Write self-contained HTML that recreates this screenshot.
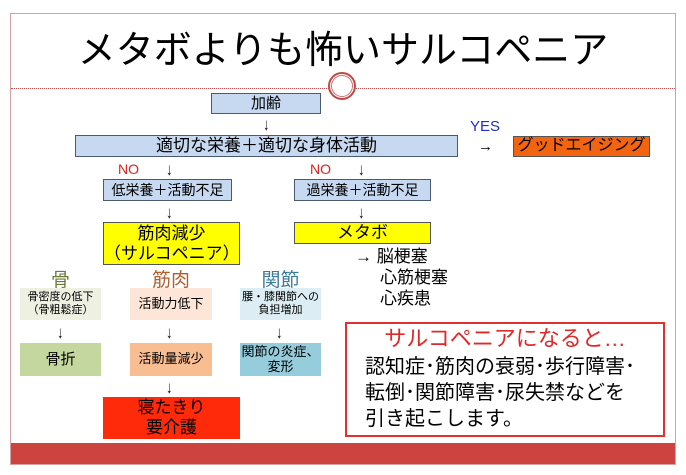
<!DOCTYPE html>
<html><head><meta charset="utf-8"><style>
body{margin:0;width:686px;height:475px;background:#fff;position:relative;overflow:hidden;font-family:"Liberation Sans","Noto Sans CJK JP",sans-serif;}
.a{position:absolute;}
.b{position:absolute;box-sizing:border-box;display:flex;align-items:center;justify-content:center;text-align:center;line-height:1.15;color:#000;}
.blue{background:#c6d9f1;border:1.5px solid #4a5a70;}
.ar{position:absolute;font-size:17px;line-height:15px;transform:scaleX(0.7);}
</style></head><body>
<div class="a" style="left:10px;top:13px;width:664px;height:450px;border:1px solid #d9a0a0;"></div>
<div class="a" style="left:11px;top:443px;width:664px;height:21px;background:#cc4340;"></div>
<div class="a" style="left:0;top:26px;width:686px;text-align:center;font-size:38px;line-height:50px;">メタボよりも怖いサルコペニア</div>
<div class="a" style="left:11px;top:88px;width:664px;border-top:1px dotted #c05050;"></div>
<div class="a" style="left:328px;top:72px;width:28px;height:28px;border-radius:50%;border:2px solid #c04848;background:#fff;box-sizing:border-box;"></div>
<div class="a" style="left:331px;top:75px;width:22px;height:22px;border-radius:50%;border:1px solid #d07070;box-sizing:border-box;"></div>

<div class="b blue" style="left:211px;top:93px;width:110px;height:21px;font-size:15px;">加齢</div>
<div class="ar" style="left:262px;top:117px;">↓</div>
<div class="b blue" style="left:75px;top:135px;width:383px;height:22px;font-size:17px;">適切な栄養＋適切な身体活動</div>
<div class="a" style="left:470px;top:118px;color:#2030c0;font-size:15px;">YES</div>
<div class="a" style="left:478px;top:138px;font-size:15px;">→</div>
<div class="b" style="left:513px;top:136px;width:137px;height:21px;background:#f26410;border:1px solid #555;font-size:16px;">グッドエイジング</div>

<div class="a" style="left:118px;top:161px;color:#e02020;font-size:14px;">NO</div>
<div class="ar" style="left:165px;top:162px;">↓</div>
<div class="a" style="left:310px;top:161px;color:#e02020;font-size:14px;">NO</div>
<div class="ar" style="left:357px;top:162px;">↓</div>
<div class="b blue" style="left:103px;top:179px;width:129px;height:22px;font-size:14px;">低栄養＋活動不足</div>
<div class="b blue" style="left:294px;top:179px;width:137px;height:22px;font-size:14px;">過栄養＋活動不足</div>
<div class="ar" style="left:165px;top:205px;">↓</div>
<div class="ar" style="left:357px;top:205px;">↓</div>
<div class="b" style="left:103px;top:222px;width:137px;height:43px;background:#ffff00;border:1.5px solid #555;font-size:17px;">筋肉減少<br>（サルコペニア）</div>
<div class="b" style="left:294px;top:222px;width:137px;height:22px;background:#ffff00;border:1.5px solid #555;font-size:17px;">メタボ</div>
<div class="a" style="left:355px;top:246px;font-size:17px;line-height:21px;">→ 脳梗塞</div>
<div class="a" style="left:380px;top:267px;font-size:17px;line-height:21px;">心筋梗塞<br>心疾患</div>

<div class="a" style="left:20px;top:265px;width:81px;text-align:center;font-size:19px;color:#6a7a3a;">骨</div>
<div class="a" style="left:130px;top:265px;width:82px;text-align:center;font-size:19px;color:#b06030;">筋肉</div>
<div class="a" style="left:240px;top:265px;width:81px;text-align:center;font-size:19px;color:#3a7a9a;">関節</div>
<div class="b" style="left:20px;top:288px;width:81px;height:32px;background:#eef0e2;font-size:11px;">骨密度の低下<br>（骨粗鬆症）</div>
<div class="b" style="left:130px;top:288px;width:82px;height:32px;background:#fde6d8;font-size:13px;">活動力低下</div>
<div class="b" style="left:240px;top:288px;width:81px;height:32px;background:#dcedf3;font-size:11px;">腰・膝関節への<br>負担増加</div>
<div class="ar" style="left:56px;top:325px;">↓</div>
<div class="ar" style="left:165px;top:325px;">↓</div>
<div class="ar" style="left:275px;top:325px;">↓</div>
<div class="b" style="left:20px;top:343px;width:81px;height:33px;background:#c4d79e;font-size:15px;">骨折</div>
<div class="b" style="left:130px;top:343px;width:82px;height:33px;background:#f9bd92;font-size:13px;">活動量減少</div>
<div class="b" style="left:240px;top:343px;width:81px;height:33px;background:#95cddc;font-size:13px;">関節の炎症、<br>変形</div>
<div class="ar" style="left:165px;top:380px;">↓</div>
<div class="b" style="left:103px;top:397px;width:137px;height:42px;background:#ff2a0a;font-size:17px;">寝たきり<br>要介護</div>

<div class="a" style="left:345px;top:322px;width:320px;height:115px;border:2.5px solid #e03030;box-sizing:border-box;background:#fff;"></div>
<div class="a" style="left:345px;top:325px;width:320px;text-align:center;color:#e02828;font-size:22px;line-height:28px;">サルコペニアになると…</div>
<div class="a" style="left:365px;top:354px;font-size:20px;line-height:26px;">認知症･筋肉の衰弱･歩行障害･<br>転倒･関節障害･尿失禁などを<br>引き起こします。</div>
</body></html>
